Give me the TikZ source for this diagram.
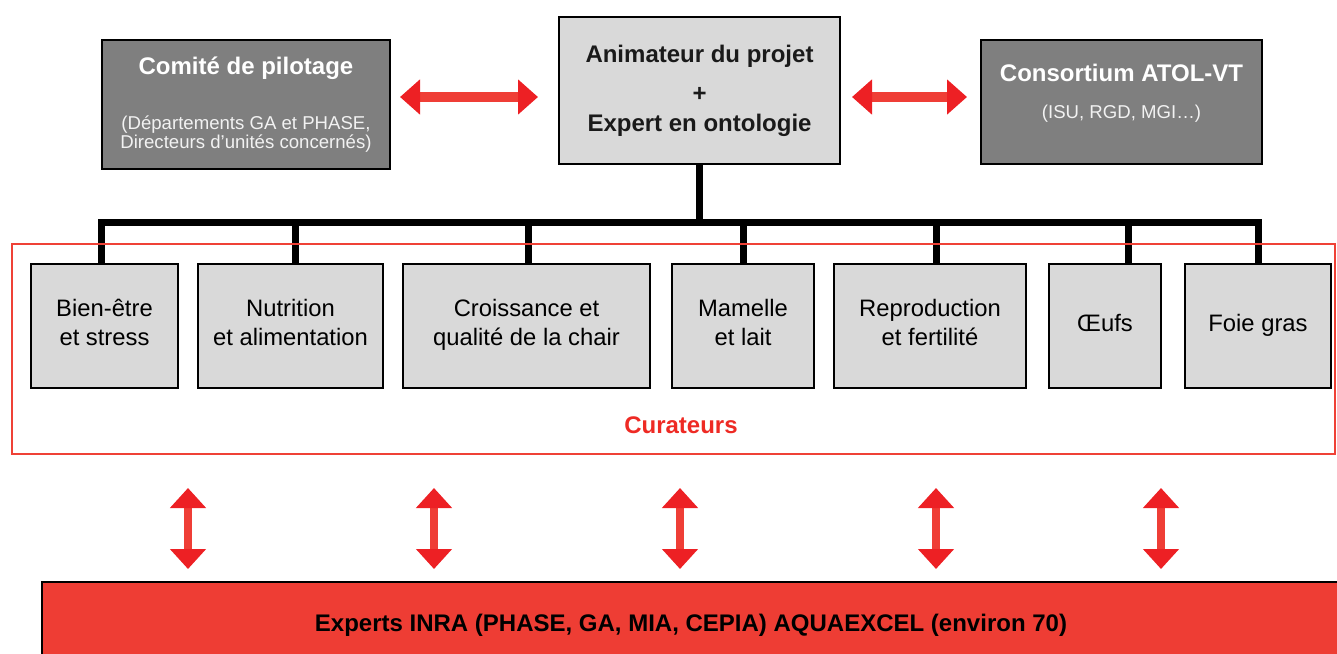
\documentclass[tikz,border=0pt]{standalone}
\usepackage{fontspec}
\setmainfont{Liberation Sans}
\usetikzlibrary{arrows.meta}
\definecolor{boxdark}{HTML}{7F7F7F}
\definecolor{boxlight}{HTML}{D9D9D9}
\definecolor{framered}{HTML}{EF4136}
\definecolor{arrowred}{HTML}{EF3E36}
\definecolor{headred}{HTML}{ED2024}
\definecolor{expred}{HTML}{EE3D34}
\definecolor{labelred}{HTML}{EE2A24}
\definecolor{subwhite}{HTML}{F2F2F2}
\definecolor{inkblack}{HTML}{1A1A1A}
\newcommand{\ldp}{\rule[-6.5pt]{0pt}{0pt}}
\begin{document}
\begin{tikzpicture}[x=1pt,y=-1pt,
  every node/.style={inner sep=0pt, outer sep=0pt},
  darkbox/.style={draw=black, line width=2.5pt, fill=boxdark, text=white, align=center, anchor=north west,
    font=\fontsize{18.6}{18.8}\selectfont},
  animbox/.style={draw=black, line width=2.5pt, fill=boxlight, text=inkblack, align=center, anchor=north west,
    font=\fontsize{24}{29.7}\selectfont\bfseries},
  lightbox/.style={draw=black, line width=2.5pt, fill=boxlight, text=black, align=center, anchor=north west,
    minimum height=124pt, font=\fontsize{23.8}{29}\selectfont},
  bus/.style={line width=7pt, draw=black, line join=miter},
  redframe/.style={draw=framered, line width=1.8pt, anchor=north west},
  expbox/.style={draw=black, line width=2.5pt, fill=expred, text=black, anchor=north west,
    font=\fontsize{24}{28}\selectfont\bfseries},
  harrow/.style={line width=10pt, draw=arrowred, >={Triangle[length=20pt,width=34pt,color=headred]}, <->},
  varrow/.style={line width=8pt, draw=arrowred, >={Triangle[length=20pt,width=35pt,color=headred]}, <->},
  title/.style={font=\fontsize{24}{24}\selectfont\bfseries}
]
\useasboundingbox (0,0) rectangle (1337,653);
\clip (0,0) rectangle (1337,653);

% top row
\node[darkbox, minimum width=288pt, minimum height=129pt] (comite) at (102,40)
  {{\fontsize{24}{24}\selectfont\bfseries Comité de pilotage}\\[36.8pt]
   {\color{subwhite}(Départements GA et PHASE,}\\
   {\color{subwhite}Directeurs d’unités concernés)}};
\node[animbox, minimum width=281pt, minimum height=147pt] (anim) at (559,17)
  {Animateur du projet\\[9.9pt]+\\Expert en ontologie};
\node[darkbox, minimum width=281pt, minimum height=124pt] (cons) at (981,40)
  {{\fontsize{24}{24}\selectfont\bfseries Consortium ATOL-VT}\\[18.2pt]
   {\color{subwhite}(ISU, RGD, MGI…)\rule[-20.5pt]{0pt}{0pt}}};

% horizontal arrows
\coordinate (ha) at (0,97);
\draw[harrow, shorten <=10pt, shorten >=21pt] (comite.east |- ha) -- (anim.west |- ha);
\draw[harrow, shorten <=12pt, shorten >=14pt] (anim.east |- ha) -- (cons.west |- ha);

% curator boxes
\node[lightbox, minimum width=147pt] (b1) at (31,264) {Bien-être\\et stress\ldp};
\node[lightbox, minimum width=185pt] (b2) at (198,264) {Nutrition\\et alimentation\ldp};
\node[lightbox, minimum width=247pt] (b3) at (403,264) {Croissance et\\qualité de la chair\ldp};
\node[lightbox, minimum width=142pt] (b4) at (672,264) {Mamelle\\et lait\ldp};
\node[lightbox, minimum width=192pt] (b5) at (834,264) {Reproduction\\et fertilité\ldp};
\node[lightbox, minimum width=112pt] (b6) at (1049,264) {Œufs\ldp};
\node[lightbox, minimum width=146pt] (b7) at (1185,264) {Foie gras\ldp};

% tree connectors
\coordinate (busL) at (101,222);
\coordinate (busR) at (1258,222);
\coordinate (s2) at (295,222);
\coordinate (s3) at (528,222);
\coordinate (s4) at (743,222);
\coordinate (s5) at (936,222);
\coordinate (s6) at (1128,222);
\draw[bus] (anim.south) -- (anim.south |- busL);
\draw[bus] (b1.north -| busL) -- (busL) -- (busR) -- (b7.north -| busR);
\draw[bus] (s2) -- (b2.north -| s2);
\draw[bus] (s3) -- (b3.north -| s3);
\draw[bus] (s4) -- (b4.north -| s4);
\draw[bus] (s5) -- (b5.north -| s5);
\draw[bus] (s6) -- (b6.north -| s6);

% curators frame
\node[redframe, minimum width=1323pt, minimum height=210pt] (cur) at (12,244) {};
\node[anchor=base, text=labelred, title] (curlabel) at (681,433) {Curateurs};

% experts box
\node[expbox, minimum width=1298pt, minimum height=87.5pt] (exp) at (42,582)
  {Experts INRA (PHASE, GA, MIA, CEPIA) AQUAEXCEL (environ 70)};

% vertical arrows
\foreach \i/\x in {1/188, 2/434, 3/680, 4/936, 5/1161} {
  \coordinate (v\i) at (\x,0);
  \draw[varrow, shorten <=34pt, shorten >=13pt] (cur.south -| v\i) -- (exp.north -| v\i);
}
\end{tikzpicture}
\end{document}
